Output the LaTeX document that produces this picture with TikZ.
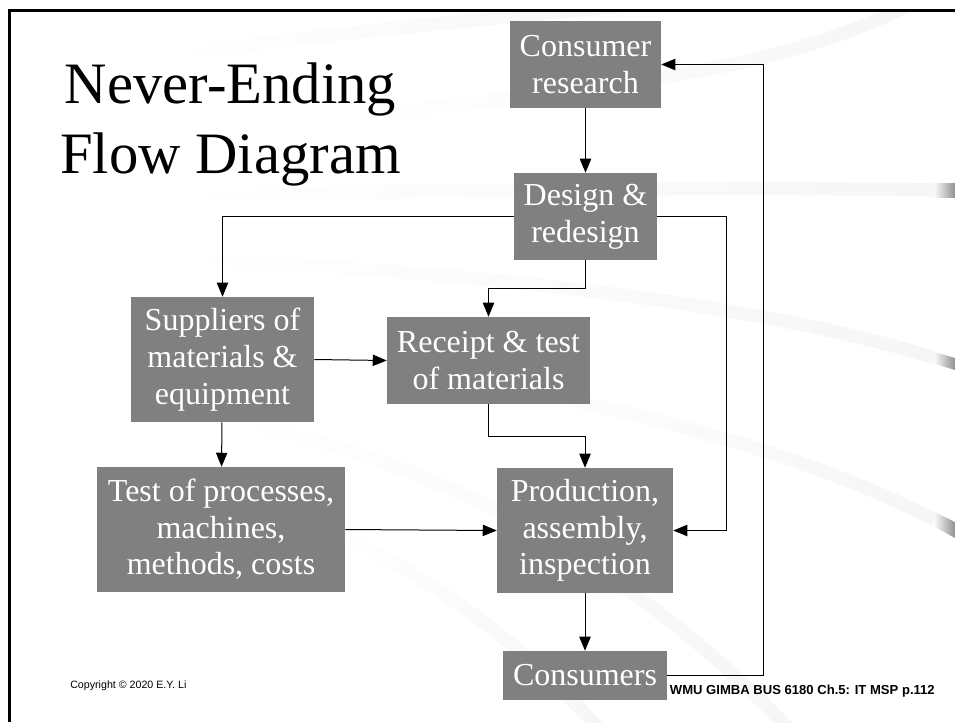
\documentclass[tikz,border=0pt]{standalone}
\usepackage{fontspec}
\setmainfont{Liberation Serif}
\newfontfamily\arialfont{Liberation Sans}
\usepackage{tikz}
\usetikzlibrary{arrows.meta}
\usetikzlibrary{fadings}
\definecolor{boxgray}{RGB}{128,128,128}
\definecolor{bandgray}{RGB}{246,246,246}
\definecolor{stubgray}{RGB}{145,145,145}
\tikzfading[name=fadein, left color=transparent!100, middle color=transparent!0, right color=transparent!0]
\tikzset{
  stage/.style={fill=boxgray, text=white, align=center, inner sep=0pt,
    font=\fontsize{24}{27.5}\selectfont},
  flow/.style={-{Triangle[length=10.5pt,width=8.5pt]}, line width=0.75pt},
  band/.style={bandgray, line width=10pt, path fading=fadein}
}

\begin{document}
\begin{tikzpicture}[x=0.75pt, y=-0.75pt]
\useasboundingbox (0,0) rectangle (955,722);

% background swooshes
\begin{scope}
\clip (11,12) rectangle (955,722);
\draw [band] (170,56) .. controls (350,30) and (500,18) .. (640,4);
\draw [band] (330,118) .. controls (550,95) and (780,75) .. (910,4);
\draw [band] (170,198) .. controls (400,190) and (700,186) .. (935,190);
\draw [band] (170,258) .. controls (450,270) and (750,300) .. (935,358);
\draw [band] (420,372) .. controls (650,410) and (820,460) .. (935,520);
\draw [band] (230,423) .. controls (380,445) and (600,530) .. (790,730);
\draw [band] (330,530) .. controls (420,570) and (520,640) .. (600,730);
\foreach \a/\b/\c/\d in {183/197/183/197, 352/364/358/370, 512/527/522/538}
  {\shade [left color=bandgray, right color=stubgray] (935,\a) -- (955,\c) -- (955,\d) -- (935,\b) -- cycle;}
\end{scope}

% frame
\draw [line width=2.25pt] (9.5,722) -- (9.5,10.5) -- (955,10.5);

% title
\node [font=\fontsize{44}{52.5}\selectfont, anchor=base] (titletop) at (230.5,103) {Never-Ending};
\node [font=\fontsize{44}{52.5}\selectfont, anchor=base] (titlebot) at (230.5,173) {Flow Diagram};

% stages
\node [stage, minimum width=113.25pt, minimum height=65.25pt] (research) at (585.5,64.5) {Consumer\\research};
\node [stage, minimum width=107.25pt, minimum height=65.25pt] (design) at (585.5,216.5) {Design \&\\redesign};
\node [stage, minimum width=137.25pt, minimum height=93.75pt] (suppliers) at (222.5,359.5) {Suppliers of\\materials \&\\equipment};
\node [stage, minimum width=152.25pt, minimum height=65.25pt] (receipt) at (488.5,360.5) {Receipt \& test\\of materials};
\node [stage, minimum width=186pt, minimum height=93.75pt] (testproc) at (221,529.5) {Test of processes,\\machines,\\methods, costs};
\node [stage, minimum width=132pt, minimum height=93.75pt] (production) at (585,530.5) {Production,\\assembly,\\inspection};
\node [stage, minimum width=123pt, minimum height=36.75pt] (consumers) at (585,675.5) {Consumers};

% flows
\coordinate (designright) at (726,0);
\coordinate (loopright) at (763,0);
\draw [flow] (research) -- (design);
\draw [flow] (design.west) -| (suppliers.north);
\draw [flow] (design.east) -| (designright |- production.east) -- (production.east);
\draw [flow] (design.south) -- ++(0,28) -| (receipt.north);
\draw [flow] (suppliers.east) -- (receipt.west);
\draw [flow] (suppliers) -- (testproc);
\draw [flow] (receipt.south) -- ++(0,32) -| (production.north);
\draw [flow] (testproc.east) -- (production.west);
\draw [flow] (production) -- (consumers);
\draw [flow] (consumers.east) -| (loopright |- research.east) -- (research.east);

% footer
\node [font=\arialfont\fontsize{8}{9.6}\selectfont, anchor=base west, inner sep=0pt] (copyright) at (70,688) {Copyright © 2020 E.Y. Li};
\node [font=\arialfont\bfseries\fontsize{9.8}{11.8}\selectfont, anchor=base east, inner sep=0pt] (pageref) at (935,694) {WMU GIMBA BUS 6180 Ch.5: IT MSP p.112};

\end{tikzpicture}
\end{document}
